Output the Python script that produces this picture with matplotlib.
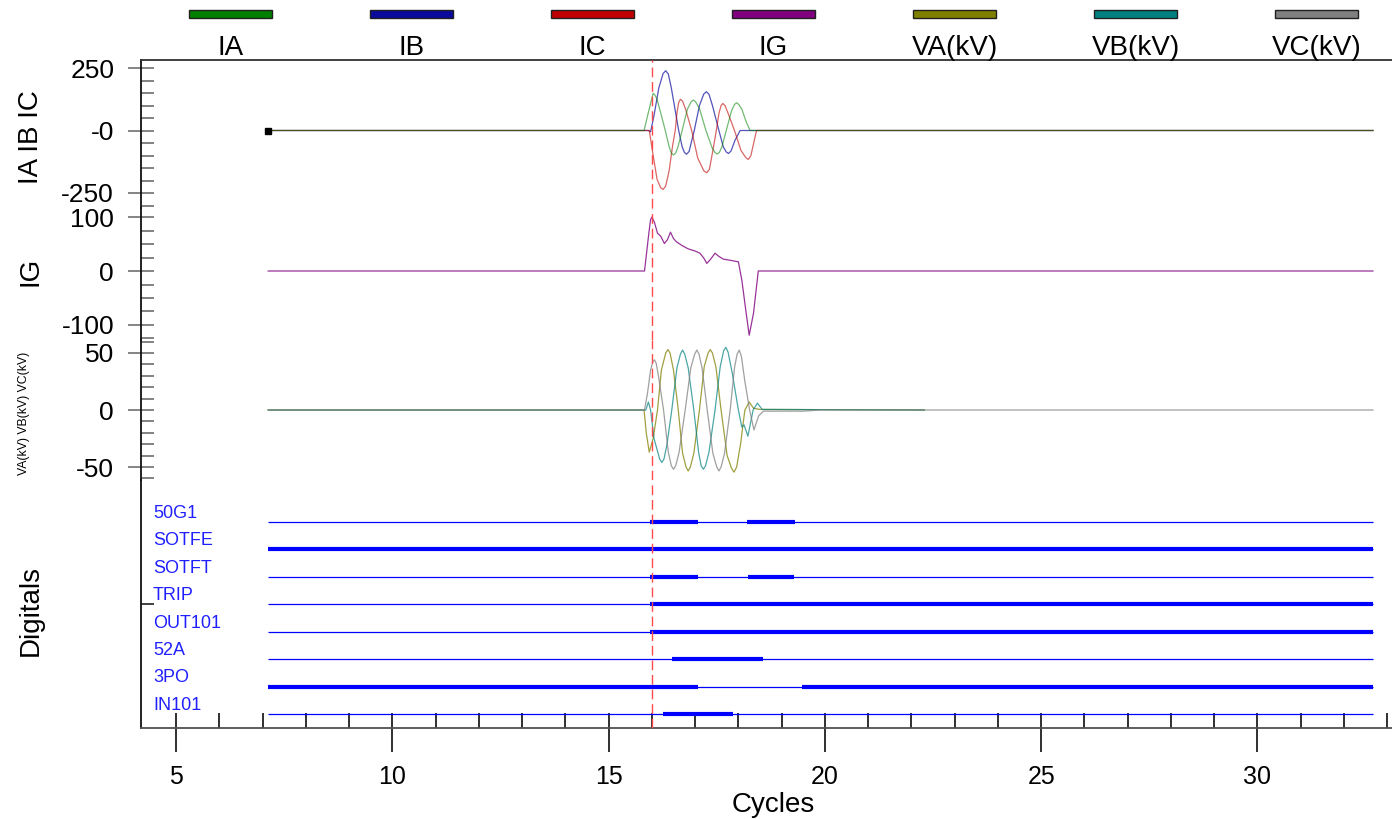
import matplotlib
matplotlib.use("Agg")
import matplotlib.pyplot as plt
from matplotlib.patches import Rectangle
from matplotlib.ticker import MultipleLocator, FixedLocator, FixedFormatter
from matplotlib.transforms import blended_transform_factory

plt.rcParams['font.family'] = ['Liberation Sans', 'DejaVu Sans']
plt.rcParams['axes.unicode_minus'] = False

# record window (cycles) and trigger
T_START = 7.13
T_END = 32.67
V_END = 22.30
TRIGGER = 16.0

# phase currents
IA_T = [T_START, 15.82, 15.93, 16.03, 16.07, 16.12, 16.22, 16.31, 16.40, 16.45, 16.50,
        16.55, 16.60, 16.70, 16.82, 16.91, 16.96, 17.01, 17.10, 17.25, 17.39, 17.46,
        17.51, 17.56, 17.62, 17.72, 17.84, 17.91, 17.96, 18.01, 18.08, 18.18, 18.27, T_END]
IA_V = [0, 0, 80, 149, 142, 125, 60, 0, -65, -90, -98,
        -90, -68, 0, 85, 115, 122, 115, 88, 0, -68, -88,
        -94, -88, -65, 0, 78, 104, 111, 104, 85, 35, 0, 0]

IB_T = [T_START, 15.92, 15.97, 16.05, 16.16, 16.26, 16.32, 16.38, 16.45, 16.54,
        16.62, 16.70, 16.75, 16.80, 16.86, 16.98, 17.10, 17.20, 17.26, 17.32,
        17.40, 17.55, 17.65, 17.72, 17.77, 17.83, 17.92, 18.04, T_END]
IB_V = [0, 0, -5, 60, 170, 228, 239, 226, 170, 80,
        0, -65, -87, -95, -84, 0, 100, 146, 155, 145,
        100, 0, -65, -86, -92, -82, -40, 0, 0]

IC_T = [T_START, 15.94, 16.03, 16.12, 16.20, 16.26, 16.32, 16.40, 16.48, 16.54,
        16.58, 16.62, 16.66, 16.71, 16.78, 16.92, 17.06, 17.20, 17.27, 17.33,
        17.40, 17.49, 17.55, 17.60, 17.64, 17.69, 17.76, 17.91, 18.06, 18.17,
        18.23, 18.29, 18.36, 18.42, T_END]
IC_V = [0, 0, -100, -195, -228, -236, -222, -160, -60, 0,
        70, 112, 125, 117, 85, 0, -110, -161, -169, -155,
        -90, 0, 68, 100, 108, 100, 70, 0, -80, -108,
        -116, -100, -45, 0, 0]

# residual current
IG_T = [T_START, 15.83, 15.93, 15.97, 16.00, 16.06, 16.13, 16.20, 16.29, 16.36, 16.43,
        16.50, 16.57, 16.70, 16.84, 17.00, 17.11, 17.20, 17.27, 17.36, 17.46, 17.55,
        17.65, 17.80, 18.00, 18.08, 18.18, 18.25, 18.35, 18.46, T_END]
IG_V = [0, 0, 70, 95, 100, 90, 70, 65, 51, 58, 72,
        60, 54, 47, 41, 37, 33, 24, 14, 22, 33, 27,
        22, 20, 17, -17, -78, -119, -78, 0, 0]

# phase voltages (kV)
VA_T = [T_START, 15.82, 15.87, 15.94, 16.03, 16.13, 16.22, 16.32, 16.37, 16.42,
        16.50, 16.61, 16.71, 16.79, 16.84, 16.89, 16.97, 17.10, 17.21, 17.30,
        17.35, 17.40, 17.48, 17.60, 17.74, 17.84, 17.90, 17.96, 18.05, 18.15,
        18.25, 18.35, 18.50, V_END]
VA_V = [0, 0, -20, -37, -25, 0, 35, 50, 53, 50,
        35, 0, -38, -50, -53.5, -50, -38, 0, 38, 50,
        53, 50, 38, 0, -40, -51, -54.5, -50, -30, 0,
        7, 1.5, 0.5, 0]

VB_T = [T_START, 15.86, 15.92, 15.97, 16.05, 16.18, 16.23, 16.28, 16.35, 16.46,
        16.58, 16.66, 16.71, 16.76, 16.84, 16.97, 17.08, 17.14, 17.19, 17.24,
        17.32, 17.46, 17.58, 17.66, 17.71, 17.76, 17.86, 18.00, 18.08, 18.13,
        18.22, 18.34, 18.44, 18.55, V_END]
VB_V = [0, 0, 7, 0, -25, -43, -46, -43, -30, 0,
        37, 49, 52.6, 49, 37, 0, -37, -49, -52, -49,
        -37, 0, 38, 52, 55, 51, 32, 0, -15, -13,
        -23, 0, 6, 0.5, 0]

VC_T = [T_START, 15.83, 15.90, 15.97, 16.02, 16.06, 16.10, 16.16, 16.27, 16.38,
        16.45, 16.50, 16.55, 16.63, 16.77, 16.90, 16.99, 17.04, 17.09, 17.16,
        17.28, 17.41, 17.50, 17.55, 17.60, 17.68, 17.81, 17.91, 17.97, 18.02,
        18.07, 18.15, 18.26, 18.36, 18.47, 18.58, 19.50, 19.90, T_END]
VC_V = [0, 0, 15, 35, 42, 44, 41, 28, 0, -37,
        -49, -52, -49, -37, 0, 37, 49, 52.6, 49, 37,
        0, -38, -50, -53.5, -50, -38, 0, 37, 49, 52.6,
        47, 25, 0, -17.5, -5, -1, -1, 0, 0]

# digital channels and their asserted intervals (cycles)
DIG_NAMES = ['50G1', 'SOTFE', 'SOTFT', 'TRIP', 'OUT101', '52A', '3PO', 'IN101']
DIG_ON = [
    [(15.96, 17.07), (18.21, 19.31)],
    [(T_START, T_END)],
    [(15.96, 17.07), (18.23, 19.29)],
    [(15.96, T_END)],
    [(15.96, T_END)],
    [(16.46, 18.56)],
    [(T_START, 17.07), (19.46, T_END)],
    [(16.26, 17.87)],
]

LEGEND = ['IA', 'IB', 'IC', 'IG', 'VA(kV)', 'VB(kV)', 'VC(kV)']
COLORS = ['#008000', '#0a0a9c', '#c00000', '#800080', '#808000', '#008080', '#808080']

W, H = 1392, 819
fig = plt.figure(figsize=(W / 100, H / 100), dpi=100)


def fx(px):
    return px / W


def fy(py):
    return 1 - py / H


def panel(top, bottom):
    return fig.add_axes([fx(141), fy(bottom), 1 - fx(141), (bottom - top) / H])


ax_i = panel(60, 208)
ax_g = panel(208, 340)
ax_v = panel(340, 480)
ax_d = panel(480, 728)
axes = [ax_i, ax_g, ax_v, ax_d]

ax_i.set_ylim(-310, 282)
ax_g.set_ylim(-127.8, 116.7)
ax_v.set_ylim(-61.4, 61.4)
ax_d.set_ylim(0.49, 9.53)

for ax in axes:
    ax.set_xlim(4.19, 33.11)
    ax.patch.set_alpha(0)
    for s in ['top', 'right', 'bottom']:
        ax.spines[s].set_visible(False)
    ax.spines['left'].set_linewidth(1.3)
    ax.spines['left'].set_color('#101010')
    ax.tick_params(axis='x', which='both', bottom=False, labelbottom=False)
    ax.tick_params(axis='y', which='major', direction='inout', length=18.7, width=1.2,
                   color='#707070', labelsize=19, pad=10)
    ax.tick_params(axis='y', which='minor', direction='in', length=9.4, width=1.1,
                   color='#606060')
    ax.axvline(TRIGGER, color='#ff4a4a', lw=1.0, dashes=(7, 3.5), zorder=10)

ax_i.spines['top'].set_visible(True)
ax_i.spines['top'].set_linewidth(1.3)
ax_i.spines['top'].set_color('#303030')

# analog traces
ax_i.plot(IB_T, IB_V, color=COLORS[1], lw=0.9, alpha=0.7)
ax_i.plot(IC_T, IC_V, color=COLORS[2], lw=0.9, alpha=0.6)
ax_i.plot(IA_T, IA_V, color=COLORS[0], lw=0.9, alpha=0.55)
ax_i.plot([T_START], [0], marker='s', ms=5, color='black', zorder=5)
ax_g.plot(IG_T, IG_V, color=COLORS[3], lw=0.9, alpha=0.8)
ax_v.plot(VA_T, VA_V, color=COLORS[4], lw=0.9, alpha=0.75)
ax_v.plot(VB_T, VB_V, color=COLORS[5], lw=0.9, alpha=0.7)
ax_v.plot(VC_T, VC_V, color=COLORS[6], lw=0.9, alpha=0.75)

ax_i.yaxis.set_major_locator(FixedLocator([250, 0, -250]))
ax_i.yaxis.set_major_formatter(FixedFormatter(['250', '-0', '-250']))
ax_i.yaxis.set_minor_locator(MultipleLocator(50))
ax_g.yaxis.set_major_locator(FixedLocator([100, 0, -100]))
ax_g.yaxis.set_minor_locator(MultipleLocator(25))
ax_v.yaxis.set_major_locator(FixedLocator([50, 0, -50]))
ax_v.yaxis.set_minor_locator(MultipleLocator(10))

# digitals
n = len(DIG_NAMES)
tr = blended_transform_factory(ax_d.transAxes, ax_d.transData)
for i, (name, spans) in enumerate(zip(DIG_NAMES, DIG_ON)):
    y = n - i
    ax_d.plot([T_START, T_END], [y, y], color='#0000ff', lw=0.9, solid_capstyle='butt')
    for a, b in spans:
        ax_d.plot([a, b], [y, y], color='#0000ff', lw=3.0, solid_capstyle='butt')
    ax_d.text(0.0096, y + 0.15, name, transform=tr, ha='left', va='baseline',
              fontsize=13, color='#2020ff')
ax_d.yaxis.set_major_locator(FixedLocator([n - DIG_NAMES.index('TRIP')]))
ax_d.yaxis.set_minor_locator(FixedLocator([]))
ax_d.tick_params(axis='y', which='major', direction='in', length=9.4, color='#202020',
                 labelleft=False)

ax_d.spines['bottom'].set_visible(True)
ax_d.spines['bottom'].set_linewidth(1.3)
ax_d.spines['bottom'].set_color('#505050')
ax_d.xaxis.set_major_locator(MultipleLocator(5))
ax_d.xaxis.set_minor_locator(MultipleLocator(1))
ax_d.xaxis.remove_overlapping_locs = False
ax_d.tick_params(axis='x', which='major', bottom=True, labelbottom=True, direction='out',
                 length=17.3, width=1.3, color='#202020', labelsize=18, pad=9)
ax_d.tick_params(axis='x', which='minor', bottom=True, direction='in',
                 length=10.8, width=1.3, color='#202020')

# legend strip
for k, (lab, col) in enumerate(zip(LEGEND, COLORS)):
    cx = 230.5 + k * 181
    fig.patches.append(Rectangle((fx(cx - 41.5), fy(18)), fx(83), 8 / H,
                                 facecolor=col, edgecolor='#202020', lw=1.0,
                                 transform=fig.transFigure, figure=fig))
    fig.text(fx(cx), fy(55), lab, ha='center', va='baseline', fontsize=20)

# axis titles
fig.text(fx(38), fy(137), 'IA IB IC', rotation=90, rotation_mode='anchor',
         ha='center', va='baseline', fontsize=20)
fig.text(fx(38), fy(271), 'IG', rotation=90, rotation_mode='anchor',
         ha='center', va='baseline', fontsize=20)
fig.text(fx(27), fy(413), 'VA(kV) VB(kV) VC(kV)', rotation=90, rotation_mode='anchor',
         ha='center', va='baseline', fontsize=8.8)
fig.text(fx(38), fy(611), 'Digitals', rotation=90, rotation_mode='anchor',
         ha='center', va='baseline', fontsize=20)
fig.text(fx(773), fy(812), 'Cycles', ha='center', va='baseline', fontsize=20)

fig.savefig('out.png', dpi=100)
